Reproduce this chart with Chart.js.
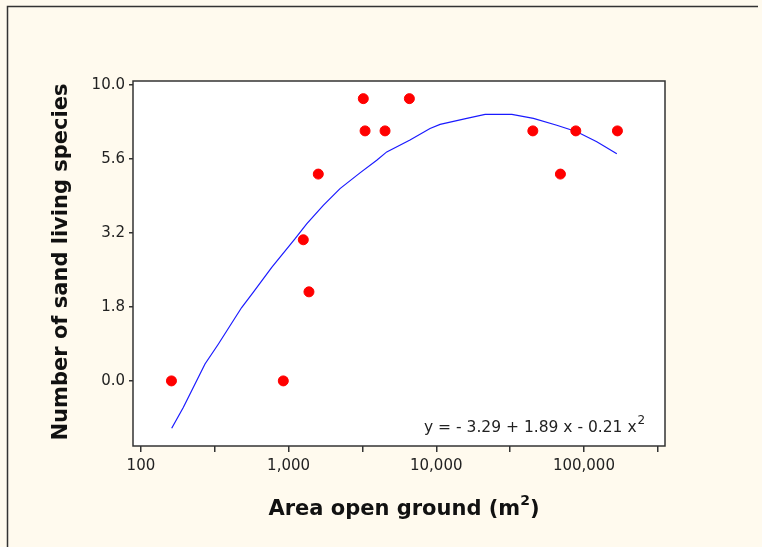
<!DOCTYPE html>
<html>
<head>
<meta charset="utf-8">
<script src="https://cdn.jsdelivr.net/npm/chart.js@4.4.1/dist/chart.umd.min.js"></script>
<style>
  html, body { margin: 0; padding: 0; background: #fffaee; }
  #wrap { width: 762px; height: 547px; }
</style>
</head>
<body>
<div id="wrap"><canvas id="sandChart" width="762" height="547"></canvas></div>
<script>
// area of open ground (m2) for each site
const areaValues = [161, 921, 1258, 1374, 1589, 3206, 3296, 4500, 6577, 45080, 69300, 88100, 168600];
// plotted species value (log-transformed axis units)
const speciesValues = [0, 0, 0.477, 0.301, 0.699, 0.954, 0.845, 0.845, 0.954, 0.845, 0.699, 0.845, 0.845];

// fitted curve
const fitArea = [161.6, 193.6, 271.6, 334, 481, 576, 769, 1104, 1326, 1718, 2230, 3045, 3953, 4622, 6641, 9075, 10620, 16100, 21430, 32500, 45500, 65500, 89500, 122200, 167000];
const fitSpecies = [-0.160, -0.090, 0.057, 0.124, 0.248, 0.299, 0.384, 0.480, 0.531, 0.593, 0.650, 0.703, 0.746, 0.774, 0.814, 0.853, 0.867, 0.887, 0.901, 0.901, 0.887, 0.864, 0.842, 0.808, 0.768];

const xTickValues = [100, 316.2, 1000, 3162, 10000, 31623, 100000, 316228];
const xTickLabels = ['100', '', '1,000', '', '10,000', '', '100,000', ''];
const yTickValues = [0, 0.25, 0.5, 0.75, 1.0];
const yTickLabels = ['0.0', '1.8', '3.2', '5.6', '10.0'];

const equationText = 'y = - 3.29 + 1.89 x - 0.21 x';
const xTitle = 'Area open ground (m';
const yTitle = 'Number of sand living species';

const tickFont = { family: 'DejaVu Sans', size: 15 };

const decorPlugin = {
    id: 'decor',
    beforeDraw(chart) {
        const ctx = chart.ctx;
        const a = chart.chartArea;
        ctx.save();
        ctx.fillStyle = '#fffaee';
        ctx.fillRect(0, 0, chart.width, chart.height);
        // outer frame (only top and left visible)
        ctx.strokeStyle = '#333333';
        ctx.lineWidth = 1.5;
        ctx.beginPath();
        ctx.moveTo(7.5, chart.height);
        ctx.lineTo(7.5, 6.5);
        ctx.lineTo(chart.width - 4, 6.5);
        ctx.stroke();
        ctx.fillStyle = '#ffffff';
        ctx.fillRect(a.left, a.top, a.right - a.left, a.bottom - a.top);
        ctx.restore();
    },
    afterDraw(chart) {
        const ctx = chart.ctx;
        const a = chart.chartArea;
        ctx.save();
        ctx.strokeStyle = '#333333';
        ctx.lineWidth = 1.5;
        ctx.strokeRect(a.left, a.top, a.right - a.left, a.bottom - a.top);

        // equation
        ctx.fillStyle = '#222222';
        ctx.font = '15.5px "DejaVu Sans"';
        ctx.textBaseline = 'alphabetic';
        ctx.textAlign = 'left';
        ctx.fillText(equationText, 424, 432);
        const w = ctx.measureText(equationText).width;
        ctx.font = '12px "DejaVu Sans"';
        ctx.fillText('2', 424 + w + 1, 424);

        // x title
        ctx.fillStyle = '#111111';
        ctx.font = 'bold 21px "DejaVu Sans"';
        const wt = ctx.measureText(xTitle).width;
        const wp = ctx.measureText(')').width;
        ctx.font = 'bold 14px "DejaVu Sans"';
        const w2 = ctx.measureText('2').width;
        const x0 = 404 - (wt + w2 + wp) / 2;
        ctx.font = 'bold 21px "DejaVu Sans"';
        ctx.fillText(xTitle, x0, 515);
        ctx.fillText(')', x0 + wt + w2, 515);
        ctx.font = 'bold 14px "DejaVu Sans"';
        ctx.fillText('2', x0 + wt, 505);

        // y title
        ctx.translate(67, 262);
        ctx.rotate(-Math.PI / 2);
        ctx.textAlign = 'center';
        ctx.font = 'bold 21px "DejaVu Sans"';
        ctx.fillText(yTitle, 0, 0);
        ctx.restore();
    }
};

const ctx = document.getElementById('sandChart').getContext('2d');
const sandChart = new Chart(ctx, {
    type: 'scatter',
    data: {
        datasets: [{
            label: 'Sites',
            data: areaValues.map((x, i) => ({ x: x, y: speciesValues[i] })),
            backgroundColor: '#ff0000',
            borderColor: '#ff0000',
            pointRadius: 5,
            pointStyle: 'circle',
        }, {
            label: 'Fit',
            type: 'line',
            data: fitArea.map((x, i) => ({ x: x, y: fitSpecies[i] })),
            borderColor: '#1a1aff',
            borderWidth: 1.2,
            pointRadius: 0,
            tension: 0,
            fill: false,
        }]
    },
    options: {
        responsive: false,
        animation: false,
        layout: { padding: { left: 0, top: 81, right: 97, bottom: 0 } },
        plugins: {
            legend: { display: false },
            tooltip: { enabled: false }
        },
        scales: {
            x: {
                type: 'logarithmic',
                min: 88.4,
                max: 354000,
                afterBuildTicks: (scale) => { scale.ticks = xTickValues.map(v => ({ value: v })); },
                afterFit: (scale) => { scale.height = 101; },
                grid: { drawOnChartArea: false, drawTicks: true, tickLength: 6, color: '#333333', lineWidth: 1.5 },
                border: { display: false },
                ticks: {
                    autoSkip: false,
                    maxRotation: 0,
                    padding: 5,
                    color: '#222222',
                    font: tickFont,
                    callback: (value, index) => xTickLabels[index]
                }
            },
            y: {
                min: -0.22,
                max: 1.0136,
                afterBuildTicks: (scale) => { scale.ticks = yTickValues.map(v => ({ value: v })); },
                afterFit: (scale) => { scale.width = 133; },
                grid: { drawOnChartArea: false, drawTicks: true, tickLength: 4, color: '#333333', lineWidth: 1.5 },
                border: { display: false },
                ticks: {
                    padding: 4,
                    color: '#222222',
                    font: tickFont,
                    callback: (value, index) => yTickLabels[index]
                }
            }
        }
    },
    plugins: [decorPlugin]
});
</script>
</body>
</html>
